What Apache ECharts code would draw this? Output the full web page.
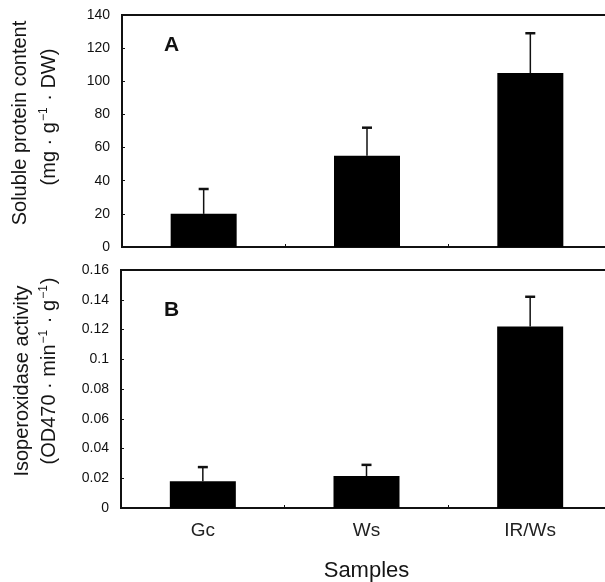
<!DOCTYPE html>
<html>
<head>
<meta charset="utf-8">
<script src="https://cdn.jsdelivr.net/npm/echarts@6/dist/echarts.min.js"></script>
<style>
  html, body { margin: 0; padding: 0; background: #fff; }
  #chart { width: 605px; height: 582px; }
</style>
</head>
<body>
<div id="chart"></div>
<script>
// samples on the x axis
const samples = ['Gc', 'Ws', 'IR/Ws'];

// panel A: soluble protein content (mg g-1 DW)
const proteinMean = [20, 55, 105];
const proteinErr = [35, 72, 129];   // top of error bar
const proteinTicks = [0, 140, 20];  // min, max, step

// panel B: isoperoxidase activity
const peroxMean = [0.018, 0.0215, 0.122];
const peroxErr = [0.0275, 0.029, 0.142];
const peroxTicks = [0, 0.16, 0.02];

const FONT = 'Liberation Sans, Arial, sans-serif';
const INK = '#111';

const richStyle = {
  a: { fontFamily: FONT, fontSize: 20, fill: '#151515' },
  s: { fontFamily: FONT, fontSize: 12, fill: '#151515', verticalAlign: 'top', padding: [0, 1, 10, 1] }
};

function errorBars(yIdx, means, tops) {
  return {
    type: 'custom',
    xAxisIndex: yIdx,
    yAxisIndex: yIdx,
    z: 1,
    data: tops.map((t, i) => [i, t]),
    renderItem: function (params, api) {
      const i = api.value(0);
      const top = api.coord([i, api.value(1)]);
      const base = api.coord([i, means[i]]);
      const half = 5;
      return {
        type: 'group',
        children: [{
          type: 'line',
          shape: { x1: top[0], y1: base[1], x2: top[0], y2: top[1] },
          style: { stroke: INK, lineWidth: 1.5 }
        }, {
          type: 'line',
          shape: { x1: top[0] - half, y1: top[1], x2: top[0] + half, y2: top[1] },
          style: { stroke: INK, lineWidth: 2.5 }
        }]
      };
    }
  };
}

function yAxis(gridIndex, ticks) {
  return {
    type: 'value',
    gridIndex: gridIndex,
    min: ticks[0],
    max: ticks[1],
    interval: ticks[2],
    axisLine: { show: true, lineStyle: { color: INK, width: 2 } },
    axisTick: { show: true, inside: true, length: 3, lineStyle: { color: INK } },
    axisLabel: { fontFamily: FONT, fontSize: 14, color: '#111', margin: 12 },
    splitLine: { show: false }
  };
}

function xAxis(gridIndex, showLabels) {
  return {
    type: 'category',
    gridIndex: gridIndex,
    data: samples,
    axisLine: { show: true, lineStyle: { color: INK, width: 2 } },
    axisTick: { show: true, inside: true, length: 3, lineStyle: { color: INK } },
    axisLabel: { show: showLabels, fontFamily: FONT, fontSize: 19, color: '#222', margin: 13 },
    name: showLabels ? 'Samples' : '',
    nameLocation: 'middle',
    nameGap: 52,
    nameTextStyle: { fontFamily: FONT, fontSize: 22, color: '#151515' }
  };
}

function vtext(x, y, text) {
  return {
    type: 'text', x: x, y: y, rotation: Math.PI / 2,
    style: { text: text, rich: richStyle, align: 'center', verticalAlign: 'middle', font: '20px ' + FONT, fill: '#151515' }
  };
}

const chart = echarts.init(document.getElementById('chart'), null, { renderer: 'canvas' });

chart.setOption({
  backgroundColor: '#fff',
  animation: false,
  grid: [
    { left: 122, top: 15, width: 490, height: 232, show: true, borderColor: INK, borderWidth: 2, outerBoundsMode: 'none', containLabel: false },
    { left: 121, top: 270, width: 491, height: 238, show: true, borderColor: INK, borderWidth: 2, outerBoundsMode: 'none', containLabel: false }
  ],
  xAxis: [xAxis(0, false), xAxis(1, true)],
  yAxis: [yAxis(0, proteinTicks), yAxis(1, peroxTicks)],
  graphic: [
    vtext(20, 123, '{a|Soluble protein content}'),
    vtext(49, 117, '{a|(mg · g}{s|−1}{a| · DW)}'),
    vtext(22, 381, '{a|Isoperoxidase activity}'),
    vtext(49, 371, '{a|(OD470 · min}{s|−1}{a| · g}{s|−1}{a|)}'),
    { type: 'text', left: 164, top: 35, style: { text: 'A', font: 'bold 21px ' + FONT, fill: INK } },
    { type: 'text', left: 164, top: 300, style: { text: 'B', font: 'bold 21px ' + FONT, fill: INK } }
  ],
  series: [
    {
      type: 'bar', xAxisIndex: 0, yAxisIndex: 0, data: proteinMean,
      barWidth: 66, itemStyle: { color: '#000' }, z: 2
    },
    errorBars(0, proteinMean, proteinErr),
    {
      type: 'bar', xAxisIndex: 1, yAxisIndex: 1, data: peroxMean,
      barWidth: 66, itemStyle: { color: '#000' }, z: 2
    },
    errorBars(1, peroxMean, peroxErr)
  ]
});
</script>
</body>
</html>
